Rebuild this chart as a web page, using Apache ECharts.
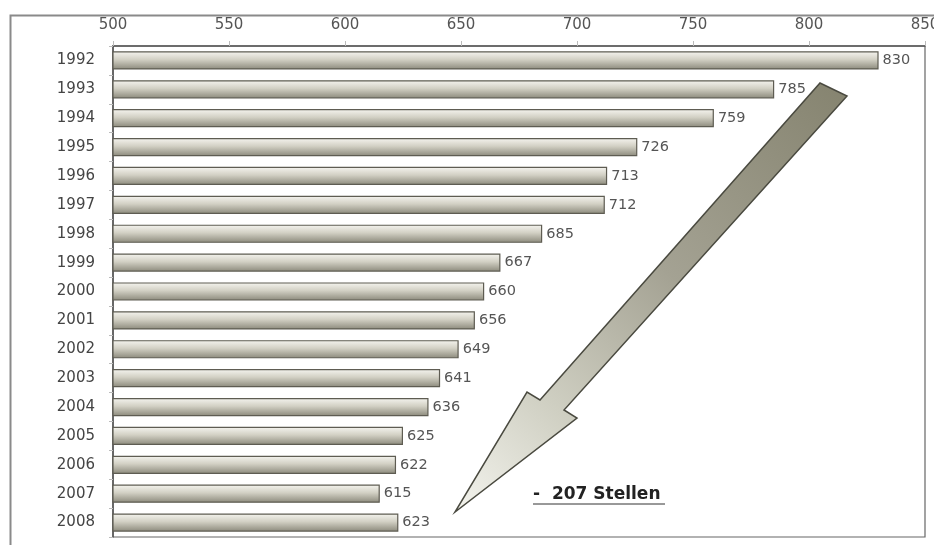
<!DOCTYPE html>
<html>
<head>
<meta charset="utf-8">
<script src="https://cdn.jsdelivr.net/npm/echarts@6/dist/echarts.min.js"></script>
<style>
html,body{margin:0;padding:0;background:#fff;}
#chart{width:934px;height:545px;}
</style>
</head>
<body>
<div id="chart"></div>
<script>
const years = ['1992','1993','1994','1995','1996','1997','1998','1999','2000','2001','2002','2003','2004','2005','2006','2007','2008'];
const values = [830,785,759,726,713,712,685,667,660,656,649,641,636,625,622,615,623];
const xTicks = [500,550,600,650,700,750,800,850];
const annotation = '-  207 Stellen';

const FONT = '"DejaVu Sans", "Liberation Sans", Arial, sans-serif';
const chart = echarts.init(document.getElementById('chart'), null, {renderer:'canvas'});

const barGradient = new echarts.graphic.LinearGradient(0,0,0,1,[
  {offset:0, color:'#f6f5f0'},
  {offset:0.45, color:'#d2d0c4'},
  {offset:1, color:'#8b897b'}
]);
const arrowGradient = new echarts.graphic.LinearGradient(1,0,0,1,[
  {offset:0, color:'#85836f'},
  {offset:0.45, color:'#a4a293'},
  {offset:0.75, color:'#cfcfc2'},
  {offset:1, color:'#f4f4ee'}
]);

chart.setOption({
  animation:false,
  backgroundColor:'#ffffff',
  grid:{left:113, right:9, top:46, bottom:8, containLabel:false, outerBoundsMode:'none',
        show:true, borderColor:'#666', borderWidth:1.2},
  xAxis:{
    type:'value', position:'top',
    min:xTicks[0], max:xTicks[xTicks.length-1], interval:xTicks[1]-xTicks[0],
    axisLine:{show:true, lineStyle:{color:'#555', width:1.5}},
    axisTick:{show:true, length:5, lineStyle:{color:'#bbb'}},
    splitLine:{show:false},
    axisLabel:{color:'#555', fontSize:15, fontFamily:FONT, margin:13}
  },
  yAxis:{
    type:'category', inverse:true, data:years,
    axisLine:{show:true, lineStyle:{color:'#555', width:1.5}},
    axisTick:{show:true, length:4, lineStyle:{color:'#bbb'}},
    axisLabel:{color:'#444', fontSize:15, fontFamily:FONT, margin:18}
  },
  series:[{
    type:'bar', data:values, barWidth:'63%',
    itemStyle:{color:barGradient, borderColor:'#5e5c52', borderWidth:1.2},
    label:{show:true, position:'right', distance:4, color:'#555', fontSize:14.5, fontFamily:FONT}
  }],
  graphic:[
    {type:'rect', left:8, top:13, shape:{x:0,y:0,width:940,height:560}, style:{fill:'none', stroke:'#8a8a8a', lineWidth:2}, silent:true, z:-1},
    {type:'polygon', shape:{points:[[820,83],[847,96],[564,410],[577,418],[455,512],[527,392],[540,400]]},
      style:{fill:arrowGradient, stroke:'#4a4a40', lineWidth:1.5}, z:10},
    {type:'text', x:533, y:495, style:{text:annotation, font:'bold 17px '+FONT, fill:'#222', textVerticalAlign:'middle'}, z:10},
    {type:'line', shape:{x1:533, y1:504, x2:665, y2:504}, style:{stroke:'#333', lineWidth:1}, z:10}
  ]
});
</script>
</body>
</html>
